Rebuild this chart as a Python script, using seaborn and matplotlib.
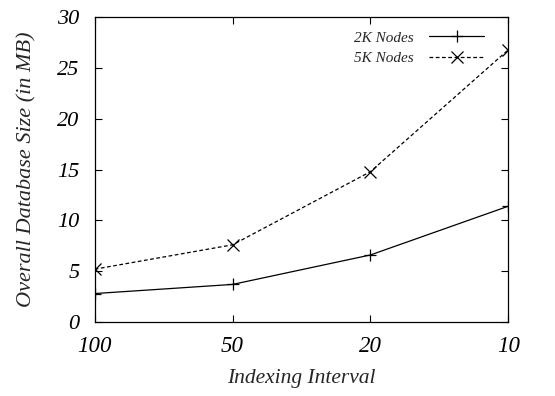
import matplotlib
matplotlib.use("Agg")
import matplotlib.pyplot as plt
import seaborn as sns
import pandas as pd

intervals = ["100", "50", "20", "10"]
size_2k = [2.8, 3.7, 6.6, 11.4]
size_5k = [5.2, 7.6, 14.8, 26.8]
series_names = ["2K Nodes", "5K Nodes"]

sns.set_theme(style="ticks")
plt.rcParams["font.family"] = ["Liberation Serif", "DejaVu Serif"]
plt.rcParams["font.style"] = "italic"

fig = plt.figure(figsize=(5.55, 3.96), dpi=100)
ax = fig.add_axes([94.7 / 555, 1 - 322 / 396, (508.3 - 94.7) / 555, (322 - 17.3) / 396])

styles = [("+", "-"), ("x", (0, (3, 2)))]
for name, vals, (mk, ls) in zip(series_names, [size_2k, size_5k], styles):
    df = pd.DataFrame({"pos": range(len(intervals)), "size": vals})
    sns.lineplot(data=df, x="pos", y="size", ax=ax, color="black",
                 marker=mk, markersize=9, markeredgewidth=0.9,
                 markeredgecolor="black", markerfacecolor="none",
                 linestyle=ls, linewidth=0.9, label=name)

ax.set_xlim(0, 3)
ax.set_ylim(0, 30)
ax.set_xticks(range(len(intervals)))
ax.set_xticklabels(intervals, fontsize=16.5, style="italic")
ax.set_yticks(range(0, 31, 5))
ax.set_yticklabels([str(v) for v in range(0, 31, 5)], fontsize=16, style="italic")
ax.tick_params(direction="in", length=5, width=0.8, top=True, right=True, colors="black")
ax.tick_params(axis="x", pad=10)
ax.tick_params(axis="y", pad=11)
for s in ax.spines.values():
    s.set_linewidth(0.9)
    s.set_color("black")

ax.set_xlabel("Indexing Interval", fontsize=15.5, style="italic", labelpad=9)
ax.set_ylabel("Overall Database Size (in MB)", fontsize=16, style="italic", labelpad=15)

leg = ax.legend(loc="upper right", frameon=False, markerfirst=False,
                fontsize=11, handlelength=3.6, borderaxespad=0.5,
                labelspacing=0.45, handletextpad=1.0, bbox_to_anchor=(0.975, 1.0))
for t in leg.get_texts():
    t.set_style("italic")

fig.savefig("out.png", dpi=100, facecolor="white")
